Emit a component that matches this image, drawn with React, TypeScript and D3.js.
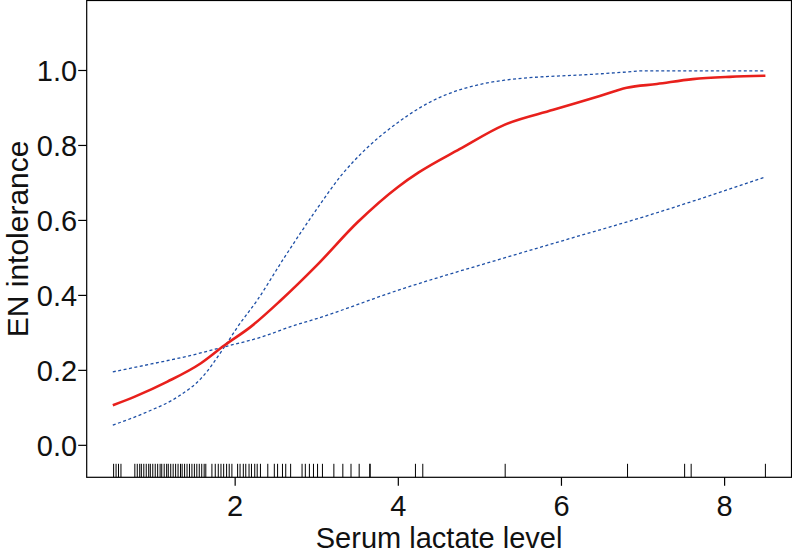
import React from "react";
import * as d3 from "d3";

const fitCurve: [number, number][] = [
  [0.5, 0.107], [0.77, 0.13], [1.17, 0.17], [1.58, 0.219], [1.87, 0.267],
  [2.19, 0.316], [2.56, 0.387], [3.0, 0.48], [3.5, 0.595], [4.0, 0.69],
  [4.25, 0.728], [4.75, 0.79], [5.3, 0.855], [5.9, 0.895], [6.47, 0.932],
  [6.8, 0.954], [7.17, 0.964], [7.61, 0.977], [8.06, 0.983], [8.5, 0.986],
];

const ciSteep: [number, number][] = [
  [0.5, 0.054], [0.93, 0.09], [1.3, 0.13], [1.58, 0.178], [1.87, 0.263],
  [2.03, 0.316], [2.27, 0.387], [2.6, 0.5], [3.0, 0.63], [3.3, 0.72],
  [3.6, 0.79], [4.0, 0.862], [4.3, 0.905], [5.3, 0.974], [6.47, 0.991],
  [6.8, 0.996], [7.0, 0.999], [8.5, 0.999],
];

const ciFlat: [number, number][] = [
  [0.5, 0.196], [0.97, 0.217], [1.42, 0.238], [1.87, 0.263], [2.31, 0.288],
  [2.7, 0.318], [3.0, 0.338], [4.0, 0.414], [5.3, 0.5], [6.0, 0.545],
  [7.0, 0.609], [8.5, 0.716],
];

const rugValues: number[] = [
  0.51, 0.54, 0.57, 0.6,
  0.77, 0.8, 0.83, 0.85, 0.88, 0.91, 0.94, 0.96, 0.99, 1.02, 1.05, 1.08,
  1.1, 1.13, 1.16, 1.18, 1.21, 1.24, 1.27, 1.3, 1.33, 1.35, 1.38, 1.41,
  1.44, 1.47, 1.5, 1.53, 1.56, 1.59, 1.62, 1.64,
  1.715, 1.756, 1.793, 1.826, 1.859, 1.895, 1.927, 1.96, 2.03, 2.06, 2.1,
  2.13, 2.17, 2.2, 2.24, 2.27, 2.31,
  2.4, 2.48, 2.52, 2.58, 2.62, 2.68, 2.82, 2.86, 2.91, 2.96, 3.01, 3.07,
  3.21, 3.32, 3.42, 3.52, 3.65, 3.655, 4.21, 4.3, 5.31, 6.81, 7.51, 7.59, 8.5,
];

const xTicks = [2, 4, 6, 8];
const yTicks = [0, 0.2, 0.4, 0.6, 0.8, 1.0];

const W = 792;
const H = 552;
const left = 86.7;
const right = 791.5;
const top = 0.5;
const bottom = 477.3;

export default function App() {
  const x = d3.scaleLinear().domain([0.18, 8.82]).range([left, right]);
  const y = d3.scaleLinear().domain([-0.0853, 1.1867]).range([bottom, top]);
  const line = d3
    .line<[number, number]>()
    .x((d) => x(d[0]))
    .y((d) => y(d[1]))
    .curve(d3.curveMonotoneX);
  const font = "'Liberation Sans', Arial, Helvetica, sans-serif";
  return (
    <svg
      width={W}
      height={H}
      style={{ position: "fixed", left: 0, top: 0, background: "#fff" }}
      fontFamily={font}
    >
      <rect x={0} y={0} width={W} height={H} fill="#fff" />
      <path d={line(ciFlat) || ""} fill="none" stroke="#1d4fa6" strokeWidth={1.3} strokeDasharray="3,2.5" />
      <path d={line(ciSteep) || ""} fill="none" stroke="#1d4fa6" strokeWidth={1.3} strokeDasharray="3,2.5" />
      <path d={line(fitCurve) || ""} fill="none" stroke="#e8201c" strokeWidth={2.6} />
      {rugValues.map((v, i) => (
        <line key={i} x1={x(v)} x2={x(v)} y1={bottom - 13.5} y2={bottom} stroke="#000" strokeWidth={1} />
      ))}
      <rect x={left} y={top} width={right - left} height={bottom - top} fill="none" stroke="#000" strokeWidth={1.2} />
      {yTicks.map((t) => (
        <g key={t}>
          <line x1={left - 8.5} x2={left} y1={y(t)} y2={y(t)} stroke="#000" strokeWidth={1.2} />
          <text x={left - 9.5} y={y(t)} dy="0.36em" textAnchor="end" fontSize={29} fill="#111">
            {t.toFixed(1)}
          </text>
        </g>
      ))}
      {xTicks.map((t) => (
        <g key={t}>
          <line x1={x(t)} x2={x(t)} y1={bottom} y2={bottom + 8.5} stroke="#000" strokeWidth={1.2} />
          <text x={x(t)} y={515.5} textAnchor="middle" fontSize={29} fill="#111">
            {t}
          </text>
        </g>
      ))}
      <text x={(left + right) / 2} y={547.5} textAnchor="middle" fontSize={29} fill="#111">
        Serum lactate level
      </text>
      <text
        transform={`translate(28, ${(top + bottom) / 2}) rotate(-90)`}
        textAnchor="middle"
        fontSize={30}
        fill="#111"
      >
        EN intolerance
      </text>
    </svg>
  );
}
